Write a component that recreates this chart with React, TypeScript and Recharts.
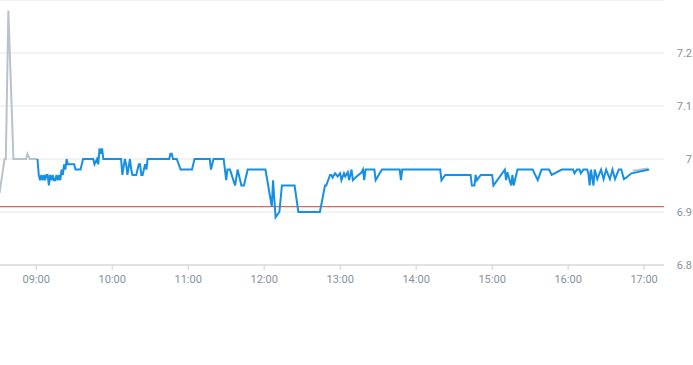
import { LineChart, Line, XAxis, YAxis, CartesianGrid, ReferenceLine } from 'recharts'

// blue sensor trace
const blueTimes = [
  '09:01', '09:02', '09:03', '09:04', '09:05', '09:06', '09:07', '09:08', '09:09', '09:10',
  '09:11', '09:12', '09:13', '09:14', '09:15', '09:16', '09:17', '09:18', '09:19', '09:20',
  '09:21', '09:22', '09:23', '09:24', '09:25', '09:30', '09:31', '09:35', '09:36', '09:37',
  '09:45', '09:46', '09:48', '09:49', '09:50', '09:51', '09:52', '09:53', '10:07', '10:08',
  '10:10', '10:11', '10:12', '10:14', '10:15', '10:16', '10:19', '10:20', '10:21', '10:22',
  '10:23', '10:24', '10:26', '10:27', '10:28', '10:45', '10:46', '10:47', '10:48', '10:51',
  '10:54', '11:03', '11:05', '11:17', '11:18', '11:20', '11:28', '11:30', '11:31', '11:33',
  '11:37', '11:39', '11:42', '11:44', '11:47', '12:01', '12:06', '12:07', '12:09', '12:12',
  '12:14', '12:24', '12:27', '12:44', '12:48', '12:49', '12:52', '12:53', '12:54', '12:56',
  '12:58', '13:00', '13:01', '13:03', '13:04', '13:06', '13:07', '13:09', '13:10', '13:13',
  '13:17', '13:18', '13:19', '13:20', '13:27', '13:28', '13:33', '13:47', '13:48', '13:49',
  '14:19', '14:20', '14:23', '14:43', '14:44', '14:46', '14:47', '14:48', '14:51', '15:00',
  '15:01', '15:10', '15:11', '15:12', '15:15', '15:16', '15:17', '15:20', '15:32', '15:36',
  '15:39', '15:45', '15:47', '15:55', '16:04', '16:05', '16:07', '16:09', '16:10', '16:12',
  '16:15', '16:16', '16:17', '16:18', '16:20', '16:21', '16:23', '16:26', '16:28', '16:30',
  '16:33', '16:35', '16:37', '16:40', '16:42', '16:44', '16:46', '16:50', '17:04',
]
const blueValues = [
  7.0, 6.97, 6.96, 6.97, 6.96, 6.97, 6.96, 6.97, 6.97, 6.95,
  6.97, 6.96, 6.97, 6.96, 6.96, 6.97, 6.96, 6.97, 6.96, 6.98,
  6.97, 6.99, 6.98, 7.0, 6.99, 6.99, 6.98, 6.98, 6.99, 7.0,
  7.0, 6.99, 7.0, 6.99, 7.02, 7.01, 7.02, 7.0, 7.0, 6.97,
  7.0, 6.99, 6.97, 7.0, 6.98, 6.97, 6.97, 6.98, 6.99, 6.99,
  6.97, 6.97, 6.99, 6.98, 7.0, 7.0, 7.01, 7.01, 7.0, 7.0,
  6.98, 6.98, 7.0, 7.0, 6.98, 7.0, 7.0, 6.96, 6.98, 6.98,
  6.95, 6.98, 6.95, 6.95, 6.98, 6.98, 6.91, 6.96, 6.89, 6.9,
  6.95, 6.95, 6.9, 6.9, 6.95, 6.95, 6.97, 6.97, 6.965, 6.973,
  6.967, 6.973, 6.96, 6.973, 6.967, 6.975, 6.96, 6.98, 6.96, 6.967,
  6.975, 6.98, 6.96, 6.98, 6.98, 6.96, 6.98, 6.98, 6.96, 6.98,
  6.98, 6.96, 6.97, 6.97, 6.95, 6.95, 6.97, 6.96, 6.97, 6.97,
  6.95, 6.98, 6.96, 6.975, 6.95, 6.97, 6.95, 6.98, 6.98, 6.96,
  6.98, 6.98, 6.97, 6.98, 6.98, 6.973, 6.98, 6.98, 6.973, 6.98,
  6.98, 6.973, 6.95, 6.98, 6.95, 6.98, 6.962, 6.98, 6.962, 6.98,
  6.962, 6.98, 6.962, 6.98, 6.98, 6.962, 6.965, 6.973, 6.98,
]

// grey trace, only visible before and after the blue one
const greyStartTimes = ['08:31', '08:35', '08:36', '08:38', '08:42', '08:52', '08:53', '08:55', '09:01']
const greyStartValues = [6.935, 7.0, 7.0, 7.28, 7.0, 7.0, 7.01, 7.0, 7.0]
const greyEndTimes = ['16:51', '17:03']
const greyEndValues = [6.978, 6.982]

const limitValue = 6.91
const yTicks = [6.8, 6.9, 7, 7.1, 7.2]
const xTickLabels = ['09:00', '10:00', '11:00', '12:00', '13:00', '14:00', '15:00', '16:00', '17:00']

const toMin = (s: string) => {
  const [h, m] = s.split(':').map(Number)
  return h * 60 + m
}
const fmt = (v: number) => {
  const h = Math.floor(v / 60)
  const m = Math.round(v - h * 60)
  return `${String(h).padStart(2, '0')}:${String(m).padStart(2, '0')}`
}

// one table keyed by minute of day, one column per trace
const rows = new Map<number, any>()
const addSeries = (key: string, times: string[], values: number[]) => {
  times.forEach((t, i) => {
    const m = toMin(t)
    const row = rows.get(m) || { t: m }
    row[key] = values[i]
    rows.set(m, row)
  })
}
addSeries('blue', blueTimes, blueValues)
addSeries('greyStart', greyStartTimes, greyStartValues)
addSeries('greyEnd', greyEndTimes, greyEndValues)
const data = Array.from(rows.values()).sort((a, b) => a.t - b.t)

const W = 693
const H = 365
const labelColor = '#86919c'

function YTick(props: any) {
  const { y, payload } = props
  return (
    <text x={W - 1} y={y} dy="0.355em" textAnchor="end" fill={labelColor} fontSize={11} fontFamily="Roboto, sans-serif">
      {payload.value}
    </text>
  )
}

const noDot = () => null

export default function App() {
  return (
    <div style={{ position: 'absolute', left: 0, top: 0, width: W, height: H, background: '#fff' }}>
      <LineChart width={W} height={H} data={data} margin={{ top: 0, right: 0, bottom: 70, left: 0 }}>
        <CartesianGrid vertical={false} stroke="#e6e6e6" />
        <XAxis
          dataKey="t"
          type="number"
          domain={[511.4, 1035.7]}
          allowDataOverflow
          ticks={xTickLabels.map(toMin)}
          tickFormatter={fmt}
          height={30}
          stroke="#ccd1d6"
          tickSize={5}
          tickMargin={5}
          tick={{ fill: labelColor, fontSize: 11, fontFamily: 'Roboto, sans-serif' }}
        />
        <YAxis
          orientation="right"
          width={29}
          domain={[6.8, 7.3]}
          ticks={yTicks}
          allowDataOverflow
          axisLine={false}
          tickLine={false}
          tick={<YTick />}
        />
        <ReferenceLine y={limitValue} stroke="#d94040" strokeWidth={1} />
        <Line dataKey="greyStart" type="linear" stroke="#b9c3cb" strokeWidth={2} dot={noDot} activeDot={false} connectNulls isAnimationActive={false} />
        <Line dataKey="greyEnd" type="linear" stroke="#b9c3cb" strokeWidth={2} dot={noDot} activeDot={false} connectNulls isAnimationActive={false} />
        <Line dataKey="blue" type="linear" stroke="#1590e2" strokeWidth={2} dot={noDot} activeDot={false} connectNulls isAnimationActive={false} />
      </LineChart>
    </div>
  )
}
